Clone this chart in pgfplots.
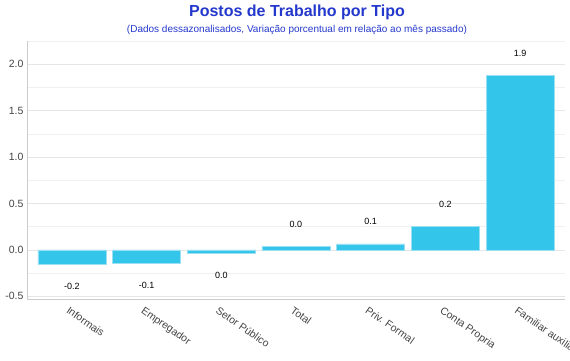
\documentclass[border=0pt]{standalone}
\usepackage{fontspec}
\setmainfont{Liberation Sans}
\usepackage{pgfplots}
\usepackage{pgfplotstable}
\pgfplotsset{compat=1.18}
\definecolor{barc}{HTML}{33C5EA}
\definecolor{barb}{HTML}{9ADFF2}
\definecolor{titc}{HTML}{2438CC}
\definecolor{gridc}{HTML}{E6E6E6}
\definecolor{tickc}{HTML}{444444}
\definecolor{axc}{HTML}{CCCCCC}
\pgfplotstableread{
x y lab
0 -0.16 -0.2
1 -0.15 -0.1
2 -0.04 0.0
}\negdata
\pgfplotstableread{
x y lab
3 0.04 0.0
4 0.065 0.1
5 0.25 0.2
6 1.88 1.9
}\posdata
\begin{document}
\begin{tikzpicture}
\begin{axis}[
  at={(27pt,61pt)}, anchor=south west,
  scale only axis, width=538pt, height=258pt,
  xmin=-0.6, xmax=6.6, ymin=-0.53, ymax=2.25,
  axis lines*=left,
  axis line style={draw=axc},
  ytick={-0.5,0,0.5,1,1.5,2},
  minor ytick={-0.25,0.25,0.75,1.25,1.75,2.25},
  yticklabels={-0.5,0.0,0.5,1.0,1.5,2.0},
  xtick={0,1,2,3,4,5,6},
  xticklabels={Informais,Empregador,Setor Público,Total,Priv. Formal,Conta Propria,Familiar auxiliar},
  major tick length=0pt, minor tick length=0pt,
  ymajorgrids, yminorgrids,
  major grid style={draw=gridc, line width=0.6pt},
  minor grid style={draw=gridc!60, line width=0.6pt},
  /pgf/number format/assume math mode=true,
  yticklabel style={font=\fontsize{10.5}{12}\selectfont, text=tickc},
  xticklabel style={font=\fontsize{10.5}{12}\selectfont, text=tickc, rotate=-35, anchor=north west, xshift=-1pt, yshift=-3pt},
  clip=false,
]
\addplot[ybar, bar width=68pt, bar shift=0pt, fill=barc, draw=barb, line width=0.5pt,
  nodes near coords, point meta=explicit symbolic,
  every node near coord/.append style={anchor=center, yshift=-22pt, font=\fontsize{9}{11}\selectfont, text=black}]
  table[x=x, y=y, meta=lab] {\negdata};
\addplot[ybar, bar width=68pt, bar shift=0pt, fill=barc, draw=barb, line width=0.5pt,
  nodes near coords, point meta=explicit symbolic,
  every node near coord/.append style={anchor=center, yshift=22pt, font=\fontsize{9}{11}\selectfont, text=black}]
  table[x=x, y=y, meta=lab] {\posdata};
\end{axis}
\node[font=\fontsize{16}{19}\selectfont\bfseries, text=titc] at (297pt,348pt) {Postos de Trabalho por Tipo};
\node[font=\fontsize{10}{12}\selectfont, text=titc] at (297pt,330pt) {(Dados dessazonalisados, Variação porcentual em relação ao mês passado)};
\pgfresetboundingbox
\path[use as bounding box] (0,0) rectangle (570pt,360pt);
\end{tikzpicture}
\end{document}
